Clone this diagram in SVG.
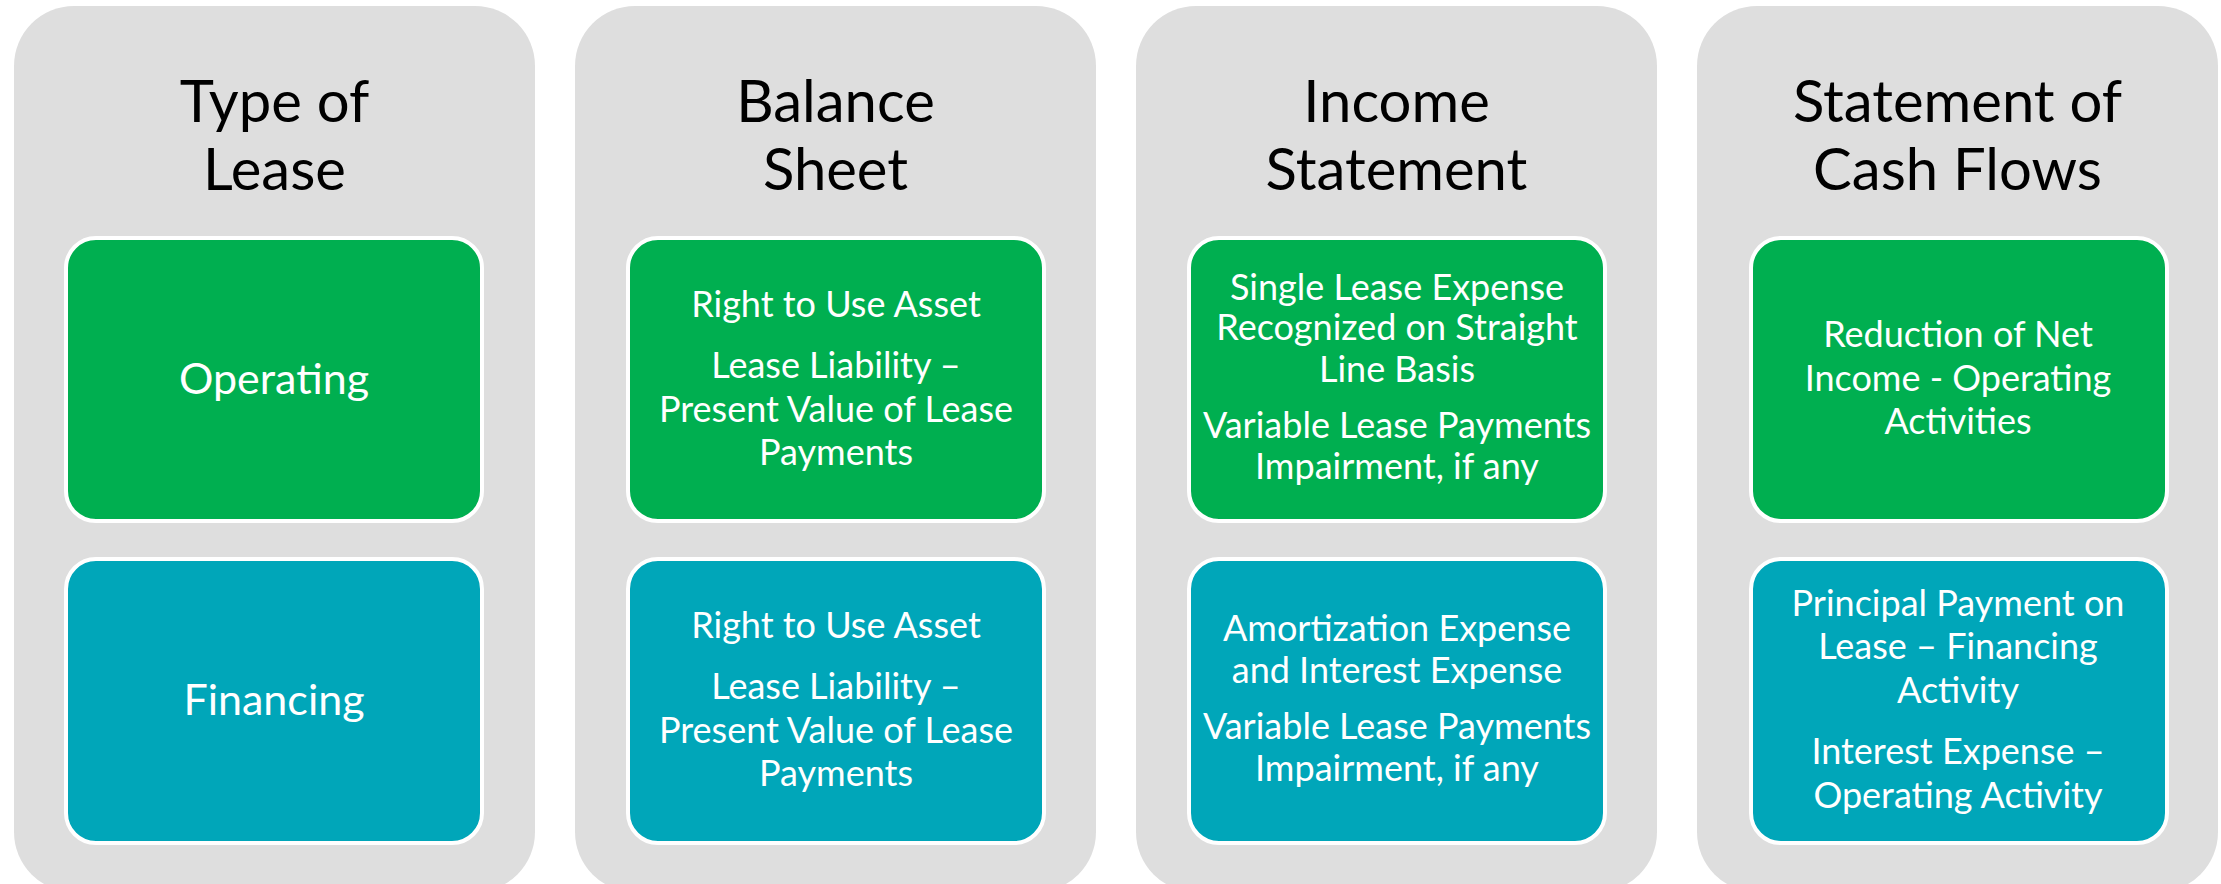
<svg xmlns="http://www.w3.org/2000/svg" width="2221" height="884" viewBox="0 0 2221 884">
  <style>
    .col { fill: #DEDEDE; }
    .box { stroke: #FFFFFF; stroke-width: 4; }
    .op { fill: #00AF50; }
    .fin { fill: #00A6B9; }
    .title { font-family: Lato, "Open Sans", sans-serif; font-size: 58px; fill: #000000; text-anchor: middle; }
    .big { font-family: Lato, "Open Sans", sans-serif; font-size: 43px; fill: #FFFFFF; text-anchor: middle; }
    .txt { font-family: Lato, "Open Sans", sans-serif; font-size: 36px; fill: #FFFFFF; text-anchor: middle; }
  </style>

  <!-- Column backgrounds with headings -->
  <g id="col-type">
    <rect class="col" x="14" y="6" width="521" height="886" rx="60" ry="60"/>
    <text class="title" x="274.5" y="122">Type of</text>
    <text class="title" x="274.5" y="190">Lease</text>
  </g>
  <g id="col-balance">
    <rect class="col" x="575" y="6" width="521" height="886" rx="60" ry="60"/>
    <text class="title" x="835.5" y="122">Balance</text>
    <text class="title" x="835.5" y="190">Sheet</text>
  </g>
  <g id="col-income">
    <rect class="col" x="1136" y="6" width="521" height="886" rx="60" ry="60"/>
    <text class="title" x="1396.5" y="122">Income</text>
    <text class="title" x="1396.5" y="190">Statement</text>
  </g>
  <g id="col-cash">
    <rect class="col" x="1697" y="6" width="521" height="886" rx="60" ry="60"/>
    <text class="title" x="1957.5" y="122">Statement of</text>
    <text class="title" x="1957.5" y="190">Cash Flows</text>
  </g>

  <!-- Operating lease row -->
  <g id="type-operating">
    <rect class="box op" x="66" y="238" width="416" height="283" rx="30" ry="30"/>
    <text class="big" x="274" y="394">Operating</text>
  </g>
  <g id="balance-operating">
    <rect class="box op" x="628" y="238" width="416" height="283" rx="30" ry="30"/>
    <text class="txt" x="836" y="317">Right to Use Asset</text>
    <text class="txt" x="836" y="378">Lease Liability –</text>
    <text class="txt" x="836" y="422">Present Value of Lease</text>
    <text class="txt" x="836" y="465">Payments</text>
  </g>
  <g id="income-operating">
    <rect class="box op" x="1189" y="238" width="416" height="283" rx="30" ry="30"/>
    <text class="txt" x="1397" y="300">Single Lease Expense</text>
    <text class="txt" x="1397" y="340">Recognized on Straight</text>
    <text class="txt" x="1397" y="382">Line Basis</text>
    <text class="txt" x="1397" y="438">Variable Lease Payments</text>
    <text class="txt" x="1397" y="479">Impairment, if any</text>
  </g>
  <g id="cash-operating">
    <rect class="box op" x="1751" y="238" width="416" height="283" rx="30" ry="30"/>
    <text class="txt" x="1958" y="347">Reduction of Net</text>
    <text class="txt" x="1958" y="391">Income - Operating</text>
    <text class="txt" x="1958" y="434">Activities</text>
  </g>

  <!-- Financing lease row -->
  <g id="type-financing">
    <rect class="box fin" x="66" y="559" width="416" height="284" rx="30" ry="30"/>
    <text class="big" x="274" y="715">Financing</text>
  </g>
  <g id="balance-financing">
    <rect class="box fin" x="628" y="559" width="416" height="284" rx="30" ry="30"/>
    <text class="txt" x="836" y="638">Right to Use Asset</text>
    <text class="txt" x="836" y="699">Lease Liability –</text>
    <text class="txt" x="836" y="743">Present Value of Lease</text>
    <text class="txt" x="836" y="786">Payments</text>
  </g>
  <g id="income-financing">
    <rect class="box fin" x="1189" y="559" width="416" height="284" rx="30" ry="30"/>
    <text class="txt" x="1397" y="641">Amortization Expense</text>
    <text class="txt" x="1397" y="683">and Interest Expense</text>
    <text class="txt" x="1397" y="739">Variable Lease Payments</text>
    <text class="txt" x="1397" y="781">Impairment, if any</text>
  </g>
  <g id="cash-financing">
    <rect class="box fin" x="1751" y="559" width="416" height="284" rx="30" ry="30"/>
    <text class="txt" x="1958" y="616">Principal Payment on</text>
    <text class="txt" x="1958" y="659">Lease – Financing</text>
    <text class="txt" x="1958" y="703">Activity</text>
    <text class="txt" x="1958" y="764">Interest Expense –</text>
    <text class="txt" x="1958" y="808">Operating Activity</text>
  </g>

  <!-- No connectors in this layout -->
  <g id="connectors"/>
</svg>
